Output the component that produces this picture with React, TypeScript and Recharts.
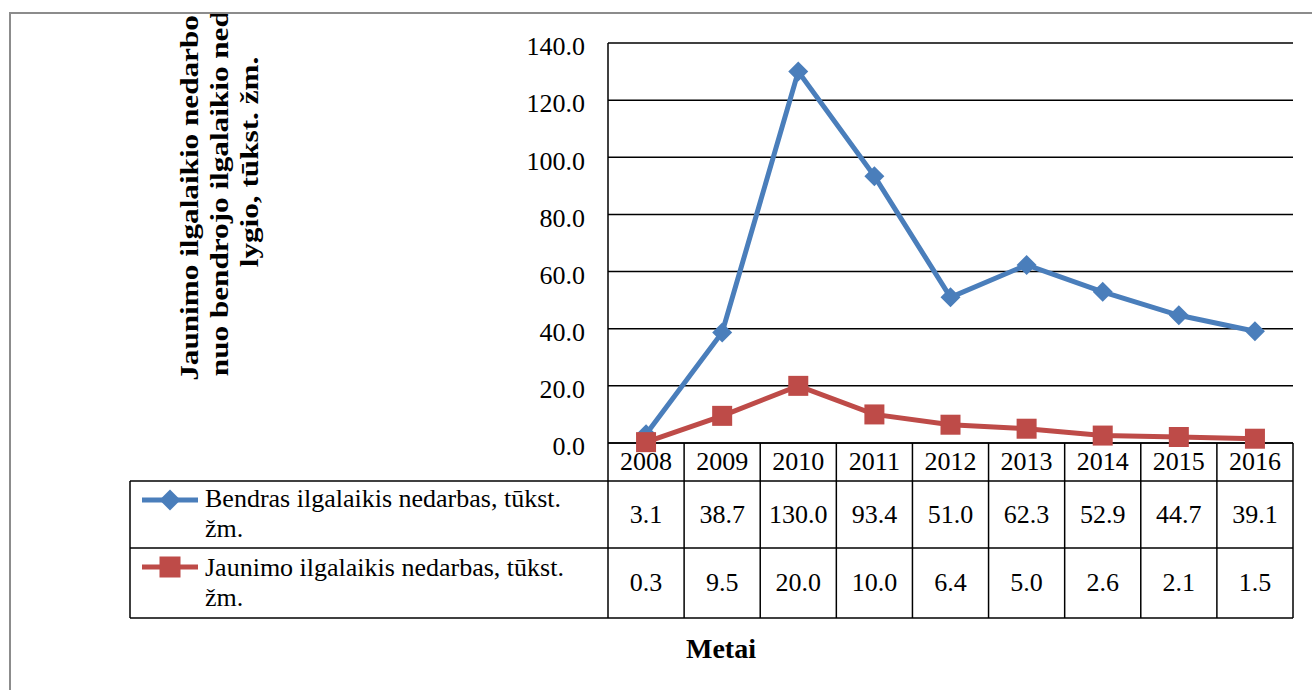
import React from 'react';
import { LineChart, Line, XAxis, YAxis, CartesianGrid } from 'recharts';

// values
const years = ['2008', '2009', '2010', '2011', '2012', '2013', '2014', '2015', '2016'];
const bendras = [3.1, 38.7, 130.0, 93.4, 51.0, 62.3, 52.9, 44.7, 39.1];
const jaunimo = [0.3, 9.5, 20.0, 10.0, 6.4, 5.0, 2.6, 2.1, 1.5];
const yTicks = [0, 20, 40, 60, 80, 100, 120, 140];
const bendrasName = ['Bendras ilgalaikis nedarbas, tūkst.', 'žm.'];
const jaunimoName = ['Jaunimo ilgalaikis nedarbas, tūkst.', 'žm.'];
const yTitle = ['Jaunimo ilgalaikio nedarbo lygio', 'nuo bendrojo ilgalaikio nedarbo', 'lygio, tūkst. žm.'];
const xTitle = 'Metai';

const data = years.map((y, i) => ({ year: y, bendras: bendras[i], jaunimo: jaunimo[i] }));

const FONT = "'Liberation Serif', 'Times New Roman', serif";
const BLUE = '#4a7ebb';
const RED = '#be4b48';
const FS = 26;

// layout (px)
const W = 1312;
const H = 690;
const PLOT_L = 608;
const PLOT_R = 1293;
const PLOT_T = 43;
const PLOT_B = 443;
const ROW0_B = 481;
const ROW1_B = 548;
const ROW2_B = 618;
const LEG_L = 130;
const BAND = (PLOT_R - PLOT_L) / years.length;
const LW = 1.5;

const Diamond = ({ cx, cy, r = 10 }: any) => (
  <path d={`M${cx},${cy - r}L${cx + r},${cy}L${cx},${cy + r}L${cx - r},${cy}Z`} fill={BLUE} />
);
const Square = ({ cx, cy, s = 20 }: any) => (
  <rect x={cx - s / 2} y={cy - s / 2} width={s} height={s} fill={RED} />
);

const TableTick = (props: any) => {
  const { x, payload, index } = props;
  const right = x + BAND / 2;
  const txt = { fontFamily: FONT, fontSize: FS, fill: '#000', textAnchor: 'middle' as const, dominantBaseline: 'central' as const };
  return (
    <g>
      {index === 0 && (
        <g>
          <line x1={LEG_L} x2={PLOT_R} y1={ROW0_B} y2={ROW0_B} stroke="#000" strokeWidth={LW} />
          <line x1={LEG_L} x2={PLOT_R} y1={ROW1_B} y2={ROW1_B} stroke="#000" strokeWidth={LW} />
          <line x1={LEG_L} x2={PLOT_R} y1={ROW2_B} y2={ROW2_B} stroke="#000" strokeWidth={LW} />
          <line x1={LEG_L} x2={LEG_L} y1={ROW0_B} y2={ROW2_B} stroke="#000" strokeWidth={LW} />
          <line x1={PLOT_L} x2={PLOT_L} y1={PLOT_B} y2={ROW2_B} stroke="#000" strokeWidth={LW} />
          <line x1={142} x2={198} y1={500} y2={500} stroke={BLUE} strokeWidth={5} />
          <Diamond cx={170} cy={500} r={10.5} />
          <line x1={142} x2={198} y1={567} y2={567} stroke={RED} strokeWidth={5} />
          <Square cx={170} cy={567} s={21} />
          <text x={205} y={507} fontFamily={FONT} fontSize={FS} fill="#000">{bendrasName[0]}</text>
          <text x={205} y={537} fontFamily={FONT} fontSize={FS} fill="#000">{bendrasName[1]}</text>
          <text x={205} y={576} fontFamily={FONT} fontSize={FS} fill="#000">{jaunimoName[0]}</text>
          <text x={205} y={606} fontFamily={FONT} fontSize={FS} fill="#000">{jaunimoName[1]}</text>
        </g>
      )}
      <line x1={right} x2={right} y1={PLOT_B} y2={ROW2_B} stroke="#000" strokeWidth={LW} />
      <text x={x} y={461} {...txt}>{payload.value}</text>
      <text x={x} y={514} {...txt}>{bendras[index].toFixed(1)}</text>
      <text x={x} y={582} {...txt}>{jaunimo[index].toFixed(1)}</text>
    </g>
  );
};

// rotated title, cut off by the frame at the top like in the original
const YTitle = () => (
  <g>
    {yTitle.map((t, i) => (
      <text
        key={i}
        x={0}
        y={0}
        transform={`translate(${189 + i * 30},162) rotate(-90) scale(1.2,1)`}
        textAnchor="middle"
        dominantBaseline="central"
        fontFamily={FONT}
        fontWeight="bold"
        fontSize={26}
        fill="#000"
      >
        {t}
      </text>
    ))}
  </g>
);

const XTitle = () => (
  <text x={721} y={648} textAnchor="middle" dominantBaseline="central" fontFamily={FONT} fontWeight="bold" fontSize={28} fill="#000">
    {xTitle}
  </text>
);

export default function App() {
  return (
    <div style={{ position: 'absolute', left: 0, top: 0, width: W, height: H, overflow: 'hidden', background: '#fff' }}>
      <div style={{ position: 'absolute', left: 9, top: 12, right: 0, bottom: 0, borderTop: '2px solid #8c8c8c', borderLeft: '2px solid #8c8c8c' }} />
      <div style={{ position: 'absolute', left: 11, top: 14, width: W - 11, height: H - 14, overflow: 'hidden' }}>
        <div style={{ position: 'absolute', left: -11, top: -14 }}>
          <LineChart width={W} height={H} data={data} margin={{ top: PLOT_T, right: W - PLOT_R, bottom: H - PLOT_B - 30, left: PLOT_L - 60 }}>
            <CartesianGrid vertical={false} stroke="#000" strokeWidth={LW} />
            <XAxis
              dataKey="year"
              height={30}
              interval={0}
              padding={{ left: BAND / 2, right: BAND / 2 }}
              axisLine={{ stroke: '#000', strokeWidth: LW }}
              tickLine={false}
              tick={<TableTick />}
              label={<XTitle />}
            />
            <YAxis
              width={60}
              domain={[0, 140]}
              ticks={yTicks}
              interval={0}
              tickFormatter={(v: number) => v.toFixed(1)}
              axisLine={{ stroke: '#000', strokeWidth: LW }}
              tickLine={false}
              tickMargin={17}
              tick={{ fontFamily: FONT, fontSize: FS, fill: '#000', dy: 3 }}
              label={<YTitle />}
            />
            <Line
              dataKey="bendras"
              stroke={BLUE}
              strokeWidth={5}
              dot={(p: any) => <Diamond key={`b${p.index}`} cx={p.cx} cy={p.cy} />}
              isAnimationActive={false}
            />
            <Line
              dataKey="jaunimo"
              stroke={RED}
              strokeWidth={5}
              dot={(p: any) => <Square key={`j${p.index}`} cx={p.cx} cy={p.cy} />}
              isAnimationActive={false}
            />
          </LineChart>
        </div>
      </div>
    </div>
  );
}
